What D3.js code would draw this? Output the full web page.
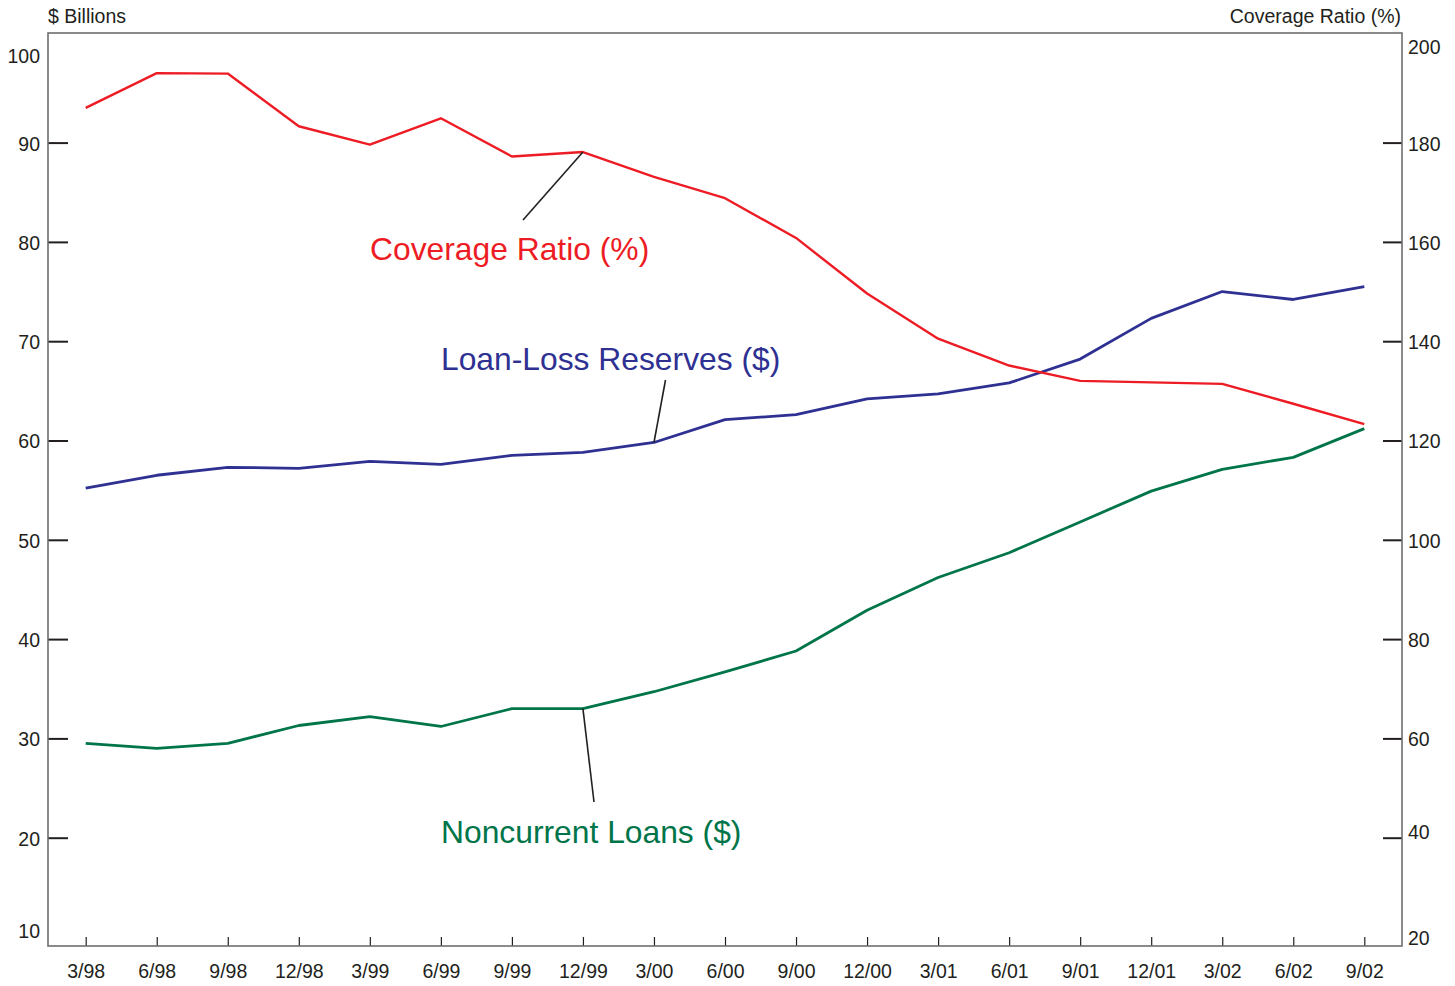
<!DOCTYPE html>
<html>
<head>
<meta charset="utf-8">
<script src="https://cdn.jsdelivr.net/npm/d3@7/dist/d3.min.js"></script>
<style>
  html, body { margin: 0; padding: 0; background: #fff; }
  svg { display: block; font-family: Arial, "Liberation Sans", Helvetica, sans-serif; }
</style>
</head>
<body>
<svg id="chart" width="1455" height="986"></svg>
<script>
const categories = ["3/98","6/98","9/98","12/98","3/99","6/99","9/99","12/99","3/00","6/00","9/00","12/00","3/01","6/01","9/01","12/01","3/02","6/02","9/02"];
const coverageRatio = [187.0,194.0,193.9,183.3,179.6,184.9,177.2,178.1,173.1,168.8,160.8,149.6,140.5,135.1,132.0,131.7,131.4,127.4,123.3];
const loanLossReserves = [55.2,56.5,57.3,57.2,57.9,57.6,58.5,58.8,59.8,62.1,62.6,64.2,64.7,65.8,68.2,72.3,75.0,74.2,75.5];
const noncurrentLoans = [29.5,29.0,29.5,31.3,32.2,31.2,33.0,33.0,34.7,36.7,38.8,42.9,46.2,48.7,51.8,54.9,57.1,58.3,61.2];
const leftTicks = [10,20,30,40,50,60,70,80,90,100];
const rightTicks = [20,40,60,80,100,120,140,160,180,200];

const svg = d3.select("#chart");
const box = {left: 48, right: 1402, top: 33, bottom: 946};

const x = d3.scalePoint().domain(categories).range([85.7, 1364.3]);
const yL = d3.scaleLinear().domain([10, 100]).range([937, 43.3]);
const yR = d3.scaleLinear().domain([20, 200]).range([937, 43.3]);

const textColor = "#231f20";
const tickFont = "19.5px";

// Left axis
const leftAxis = svg.append("g").attr("transform", `translate(${box.left},0)`)
  .call(d3.axisRight(yL).tickValues(leftTicks).tickSize(20).tickFormat(d3.format("d")));
leftAxis.select(".domain").remove();
leftAxis.selectAll(".tick line").attr("stroke", textColor).attr("stroke-width", 2)
  .attr("display", d => (d === 10 || d === 100) ? "none" : null);
leftAxis.selectAll(".tick text")
  .attr("x", -8).attr("text-anchor", "end").attr("fill", textColor)
  .style("font-size", tickFont)
  .attr("dy", d => d === 100 ? "1.0em" : d === 10 ? "0.0em" : "0.38em");

// Right axis
const rightAxis = svg.append("g").attr("transform", `translate(${box.right},0)`)
  .call(d3.axisLeft(yR).tickValues(rightTicks).tickSize(19).tickFormat(d3.format("d")));
rightAxis.select(".domain").remove();
rightAxis.selectAll(".tick line").attr("stroke", textColor).attr("stroke-width", 2)
  .attr("display", d => (d === 20 || d === 200) ? "none" : null);
rightAxis.selectAll(".tick text")
  .attr("x", 6).attr("text-anchor", "start").attr("fill", textColor)
  .style("font-size", tickFont)
  .attr("dy", d => d === 200 ? "0.5em" : d === 20 ? "0.4em" : d === 40 ? "0.05em" : "0.38em");

// Bottom axis
const bottomAxis = svg.append("g").attr("transform", `translate(0,${box.bottom})`)
  .call(d3.axisTop(x).tickSize(9));
bottomAxis.select(".domain").remove();
bottomAxis.selectAll(".tick line").attr("stroke", textColor).attr("stroke-width", 1.2);
bottomAxis.selectAll(".tick text")
  .attr("y", 32).attr("dy", 0).attr("fill", textColor)
  .style("font-size", tickFont);

// Frame
svg.append("rect")
  .attr("x", box.left).attr("y", box.top)
  .attr("width", box.right - box.left).attr("height", box.bottom - box.top)
  .attr("fill", "none").attr("stroke", "#6d6e71").attr("stroke-width", 1.6);

// Axis titles
svg.append("text").attr("x", 48).attr("y", 23).attr("fill", textColor)
  .style("font-size", "19.5px").text("$ Billions");
svg.append("text").attr("x", 1401).attr("y", 23).attr("fill", textColor)
  .attr("text-anchor", "end").style("font-size", "19.5px").text("Coverage Ratio (%)");

// Lines
const lineL = d3.line().x((d, i) => x(categories[i])).y(d => yL(d));
const lineR = d3.line().x((d, i) => x(categories[i])).y(d => yR(d));

const red = "#ed1c24", blue = "#2e3192", green = "#007549";

svg.append("path").datum(noncurrentLoans).attr("d", lineL)
  .attr("fill", "none").attr("stroke", green).attr("stroke-width", 2.8).attr("stroke-linejoin", "round");
svg.append("path").datum(loanLossReserves).attr("d", lineL)
  .attr("fill", "none").attr("stroke", blue).attr("stroke-width", 2.8).attr("stroke-linejoin", "round");
svg.append("path").datum(coverageRatio).attr("d", lineR)
  .attr("fill", "none").attr("stroke", red).attr("stroke-width", 2.4).attr("stroke-linejoin", "round");

// Leader lines
const leader = (x1, y1, x2, y2) => svg.append("line")
  .attr("x1", x1).attr("y1", y1).attr("x2", x2).attr("y2", y2)
  .attr("stroke", "#231f20").attr("stroke-width", 1.6);
leader(x("12/99"), yR(coverageRatio[7]), 523, 220);
leader(x("3/00"), yL(loanLossReserves[8]), 665.5, 380);
leader(x("12/99"), yL(noncurrentLoans[7]), 594, 802);

// Series labels
const labelFont = "31.8px";
svg.append("text").attr("x", 370).attr("y", 260).attr("fill", red)
  .style("font-size", labelFont).text("Coverage Ratio (%)");
svg.append("text").attr("x", 441).attr("y", 370).attr("fill", blue)
  .style("font-size", labelFont).text("Loan-Loss Reserves ($)");
svg.append("text").attr("x", 441).attr("y", 843).attr("fill", green)
  .style("font-size", labelFont).text("Noncurrent Loans ($)");
</script>
</body>
</html>
